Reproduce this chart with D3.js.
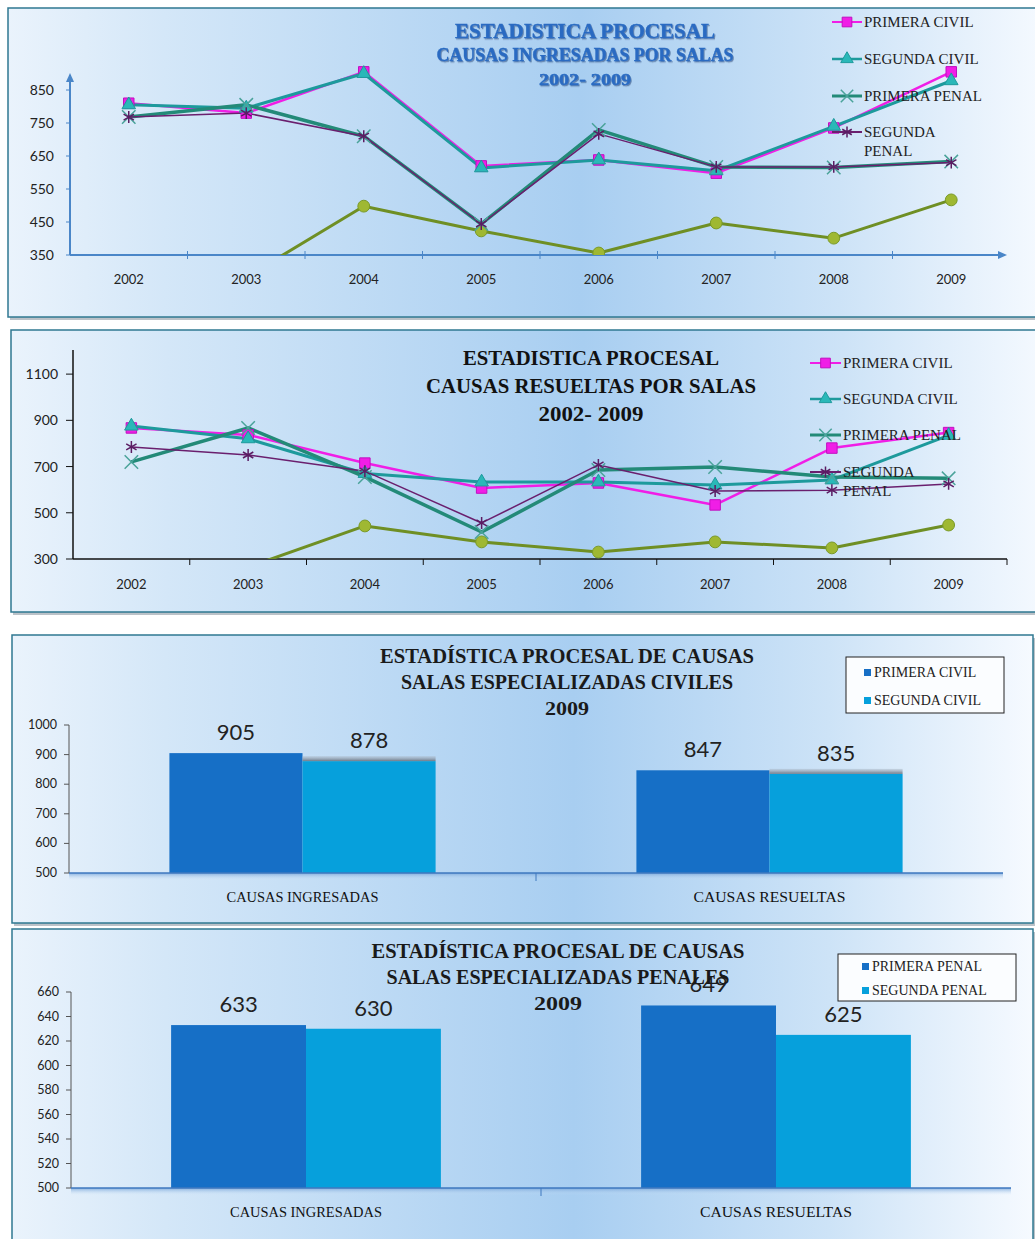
<!DOCTYPE html>
<html><head><meta charset="utf-8">
<script src="https://cdnjs.cloudflare.com/ajax/libs/d3/7.8.5/d3.min.js"></script>
<style>
html,body{margin:0;padding:0;background:#fff;}
svg{display:block;font-family:"Liberation Serif","DejaVu Serif",serif;}
.num{font-family:Lato,"Open Sans",sans-serif;}
</style></head>
<body>
<div id="chart"></div>
<script>
// ---------- DATA ----------
const years = ["2002","2003","2004","2005","2006","2007","2008","2009"];
const seriesNames = ["PRIMERA CIVIL","SEGUNDA CIVIL","PRIMERA PENAL","SEGUNDA PENAL"];

// Causas ingresadas por salas
const ingPrimeraCivil = [810, 780, 905, 620, 638, 598, 735, 905];
const ingSegundaCivil = [805, 795, 900, 614, 638, 605, 740, 878];
const ingPrimeraPenal = [768, 805, 710, 444, 729, 617, 615, 633];
const ingSegundaPenal = [768, 780, 710, 444, 717, 617, 617, 630];
const ingOtra         = [250, 283, 498, 423, 356, 447, 401, 517];
const ingTicks = [350, 450, 550, 650, 750, 850];

// Causas resueltas por salas
const resPrimeraCivil = [867, 837, 715, 607, 629, 534, 780, 847];
const resSegundaCivil = [875, 820, 670, 633, 633, 620, 642, 835];
const resPrimeraPenal = [720, 867, 655, 417, 685, 698, 655, 649];
const resSegundaPenal = [785, 750, 680, 456, 707, 594, 598, 625];
const resOtra         = [200, 265, 443, 374, 330, 374, 348, 447];
const resTicks = [300, 500, 700, 900, 1100];

// Bar charts 2009
const barCategories = ["CAUSAS INGRESADAS","CAUSAS RESUELTAS"];
const civilNames = ["PRIMERA CIVIL","SEGUNDA CIVIL"];
const civilPrimera = [905, 847];
const civilSegunda = [878, 835];
const civilTicks = [500, 600, 700, 800, 900, 1000];
const penalNames = ["PRIMERA PENAL","SEGUNDA PENAL"];
const penalPrimera = [633, 649];
const penalSegunda = [630, 625];
const penalTicks = [500, 520, 540, 560, 580, 600, 620, 640, 660];

// ---------- DRAW ----------
const W = 1035, H = 1239;
const svg = d3.select("#chart").append("svg").attr("width", W).attr("height", H);
const defs = svg.append("defs");
const g1 = defs.append("linearGradient").attr("id","bg").attr("x1","0").attr("x2","1").attr("y1","0").attr("y2","0");
[[0,"#eaf3fc"],[0.15,"#d4e7f8"],[0.55,"#a8cef1"],[0.8,"#cde3f7"],[1,"#f6faff"]].forEach(s=>g1.append("stop").attr("offset",s[0]).attr("stop-color",s[1]));
const gsh = defs.append("linearGradient").attr("id","barsh").attr("x1","0").attr("x2","0").attr("y1","0").attr("y2","1");
gsh.append("stop").attr("offset",0).attr("stop-color","#a9b6c4").attr("stop-opacity",0.4);
gsh.append("stop").attr("offset",1).attr("stop-color","#6f7a88").attr("stop-opacity",1);
const flt = defs.append("filter").attr("id","glow").attr("x","-10%").attr("y","-30%").attr("width","120%").attr("height","160%");
flt.append("feDropShadow").attr("dx",1).attr("dy",1.2).attr("stdDeviation",0.6).attr("flood-color","#1b3f73").attr("flood-opacity",0.55);
const floor = defs.append("linearGradient").attr("id","floor").attr("x1","0").attr("x2","0").attr("y1","0").attr("y2","1");
floor.append("stop").attr("offset",0).attr("stop-color","#6f9fd6");
floor.append("stop").attr("offset",1).attr("stop-color","#cfe3f7").attr("stop-opacity",0);

function panel(x,y,w,h){
  svg.append("rect").attr("x",x+2).attr("y",y+3).attr("width",w).attr("height",h).attr("fill","#8d9aa3").attr("opacity",0.6);
  svg.append("rect").attr("x",x).attr("y",y).attr("width",w).attr("height",h).attr("fill","url(#bg)").attr("stroke","#2f7891").attr("stroke-width",1.5);
}
panel(8,8,1040,309);
panel(11,330,1040,282);
panel(12,635,1021,288);
panel(12,929,1021,320);

const styles = [
  {name:"PRIMERA CIVIL", color:"#f01ee6", width:2.5, sym:d3.symbolSquare, size:110, fill:"#f01ee6", stroke:"#c010c0"},
  {name:"SEGUNDA CIVIL", color:"#1d9a9c", width:3, sym:d3.symbolTriangle, size:80, fill:"#2ab8b8", stroke:"#1d9a9c"},
  {name:"PRIMERA PENAL", color:"#238a78", width:3.5, sym:(d3.symbolTimes||d3.symbolX||d3.symbolCross), size:120, fill:"none", stroke:"#4aa39a"},
  {name:"SEGUNDA PENAL", color:"#6a1f6e", width:1.5, sym:(d3.symbolAsterisk||d3.symbolStar), size:100, fill:"none", stroke:"#5b1c63"},
  {name:"", color:"#6f8f24", width:3, sym:d3.symbolCircle, size:110, fill:"#9fb832", stroke:"#7a9a28"}
];

function linePanel(cfg){
  const x = d3.scaleBand().domain(years).range([cfg.x0, cfg.x1]);
  const y = d3.scaleLinear().domain(cfg.domain).range([cfg.yb, cfg.yt]);
  const gg = svg.append("g");
  const clipId = "clip"+cfg.id;
  defs.append("clipPath").attr("id",clipId).append("rect")
    .attr("x",cfg.x0).attr("y",cfg.yt-25).attr("width",cfg.x1-cfg.x0+10).attr("height",cfg.yb-cfg.yt+25);
  const ax = gg.append("g");
  ax.append("line").attr("x1",cfg.x0).attr("x2",cfg.x0).attr("y1",cfg.yb).attr("y2",cfg.axTop)
    .attr("stroke",cfg.axisColor).attr("stroke-width",cfg.axisW);
  ax.append("line").attr("x1",cfg.x0).attr("x2",cfg.axRight).attr("y1",cfg.yb).attr("y2",cfg.yb)
    .attr("stroke",cfg.axisColor).attr("stroke-width",cfg.axisW);
  if(cfg.arrows){
    ax.append("path").attr("d",`M${cfg.x0-4},${cfg.axTop+7}L${cfg.x0},${cfg.axTop-2}L${cfg.x0+4},${cfg.axTop+7}Z`).attr("fill",cfg.axisColor);
    ax.append("path").attr("d",`M${cfg.axRight-7},${cfg.yb-4}L${cfg.axRight+2},${cfg.yb}L${cfg.axRight-7},${cfg.yb+4}Z`).attr("fill",cfg.axisColor);
  }
  cfg.ticks.forEach(t=>{
    ax.append("line").attr("x1",cfg.x0-cfg.tickLen).attr("x2",cfg.x0).attr("y1",y(t)).attr("y2",y(t)).attr("stroke",cfg.axisColor).attr("stroke-width",1);
    ax.append("text").attr("class","num").attr("x",cfg.x0-cfg.labelGap).attr("y",y(t)+5).attr("text-anchor","end")
      .attr("font-size",14).attr("fill","#222").text(t);
  });
  years.forEach((yr,i)=>{
    if(i>0) ax.append("line").attr("x1",x(yr)).attr("x2",x(yr)).attr("y1",cfg.yb-cfg.xTickUp).attr("y2",cfg.yb+cfg.xTickDown).attr("stroke",cfg.axisColor).attr("stroke-width",1);
    ax.append("text").attr("class","num").attr("x",x(yr)+x.bandwidth()/2).attr("y",cfg.yearY).attr("text-anchor","middle")
      .attr("font-size",13).attr("fill","#222").text(yr);
  });
  if(cfg.endTick) ax.append("line").attr("x1",cfg.axRight).attr("x2",cfg.axRight).attr("y1",cfg.yb).attr("y2",cfg.yb+cfg.xTickDown).attr("stroke",cfg.axisColor);
  const order = [4,0,1,2,3];
  const lg = gg.append("g").attr("clip-path",`url(#${clipId})`);
  order.forEach(si=>{
    const st = styles[si], data = cfg.series[si];
    const line = d3.line().x((d,i)=>x(years[i])+x.bandwidth()/2).y(d=>y(d));
    lg.append("path").datum(data).attr("d",line).attr("fill","none").attr("stroke",st.color).attr("stroke-width",st.width).attr("stroke-linejoin","round");
  });
  order.forEach(si=>{
    const st = styles[si], data = cfg.series[si];
    lg.selectAll(null).data(data).enter().append("path")
      .attr("transform",(d,i)=>`translate(${x(years[i])+x.bandwidth()/2},${y(d)})`)
      .attr("d",d3.symbol().type(st.sym).size(st.size))
      .attr("fill",st.fill).attr("stroke",st.stroke).attr("stroke-width",st.fill==="none"?1.5:1);
  });
  const leg = gg.append("g");
  cfg.legendRows.forEach((ly,i)=>{
    const st = styles[i];
    const mx = (cfg.legX0+cfg.legX1)/2;
    leg.append("line").attr("x1",cfg.legX0).attr("x2",cfg.legX1).attr("y1",ly).attr("y2",ly).attr("stroke",st.color).attr("stroke-width",Math.max(2,st.width-0.5));
    leg.append("path").attr("transform",`translate(${mx},${ly})`).attr("d",d3.symbol().type(st.sym).size(st.size*0.85))
      .attr("fill",st.fill).attr("stroke",st.stroke).attr("stroke-width",st.fill==="none"?1.5:1);
    const words = seriesNames[i]==="SEGUNDA PENAL" ? ["SEGUNDA","PENAL"] : [seriesNames[i]];
    words.forEach((w,j)=>{
      leg.append("text").attr("x",cfg.legX1+2).attr("y",ly+5+j*19).attr("font-size",15).attr("fill","#222").text(w);
    });
  });
  cfg.title.forEach(t=>{
    const tx = gg.append("text").attr("x",cfg.titleX).attr("y",t.y).attr("text-anchor","middle")
      .attr("font-weight","bold").attr("font-size",t.size).attr("fill",cfg.titleColor)
      .attr("textLength",t.len).attr("lengthAdjust","spacingAndGlyphs").text(t.text);
    if(cfg.glow) tx.attr("filter","url(#glow)").attr("stroke",cfg.titleColor).attr("stroke-width",0.4);
  });
}

linePanel({id:1, x0:70, x1:1010, axRight:1005, domain:[350,900], yb:255, yt:73.5, axTop:75,
  axisColor:"#4a86c8", axisW:2, arrows:true, ticks:ingTicks, tickLen:4, labelGap:16, xTickUp:4, xTickDown:4, yearY:284, endTick:false,
  series:[ingPrimeraCivil, ingSegundaCivil, ingPrimeraPenal, ingSegundaPenal, ingOtra],
  legX0:832, legX1:862, legendRows:[22,59,96,132],
  titleX:585, titleColor:"#2a6bc2", glow:true,
  title:[{text:"ESTADISTICA PROCESAL",y:38,size:22,len:260},{text:"CAUSAS INGRESADAS POR SALAS",y:61,size:19,len:297},{text:"2002- 2009",y:85,size:16,len:92}]
});

linePanel({id:2, x0:73, x1:1007, axRight:1007, domain:[300,1200], yb:559, yt:351, axTop:350,
  axisColor:"#111", axisW:1.5, arrows:false, ticks:resTicks, tickLen:7, labelGap:15, xTickUp:0, xTickDown:6, yearY:589, endTick:true,
  series:[resPrimeraCivil, resSegundaCivil, resPrimeraPenal, resSegundaPenal, resOtra],
  legX0:810, legX1:841, legendRows:[363,399,435,472],
  titleX:591, titleColor:"#111", glow:false,
  title:[{text:"ESTADISTICA PROCESAL",y:365,size:21,len:256},{text:"CAUSAS RESUELTAS POR SALAS",y:393,size:21,len:330},{text:"2002- 2009",y:421,size:20,len:105}]
});

const barColors = ["#166fc6","#06a0dc"];

function barPanel(cfg){
  const x0 = d3.scaleBand().domain(barCategories).range([cfg.x0, cfg.x1]);
  const x1 = d3.scaleBand().domain([0,1]).range([x0.bandwidth()*cfg.padL, x0.bandwidth()*(1-cfg.padL)]);
  const y = d3.scaleLinear().domain(cfg.domain).range([cfg.yb, cfg.yt]);
  const gg = svg.append("g");
  gg.append("rect").attr("x",cfg.x0).attr("y",cfg.yb).attr("width",cfg.x1-cfg.x0).attr("height",7).attr("fill","url(#floor)").attr("opacity",0.8);
  const vals = [cfg.s1, cfg.s2];
  barCategories.forEach((c,ci)=>{
    [0,1].forEach(si=>{
      const v = vals[si][ci];
      const bx = x0(c)+x1(si);
      gg.append("rect").attr("x",bx).attr("y",y(v)).attr("width",x1.bandwidth()).attr("height",cfg.yb-y(v)).attr("fill",barColors[si]);
      if(si===1 && cfg.shadow){
        gg.append("rect").attr("x",bx).attr("y",y(v)-5).attr("width",x1.bandwidth()).attr("height",5).attr("fill","url(#barsh)");
      }
      gg.append("text").attr("class","num").attr("x",bx+x1.bandwidth()/2).attr("y",y(v)-13).attr("text-anchor","middle")
        .attr("font-size",22).attr("fill","#222").text(v);
    });
    gg.append("text").attr("x",x0(c)+x0.bandwidth()/2).attr("y",cfg.catY).attr("text-anchor","middle")
      .attr("font-size",14).attr("fill","#111").attr("textLength",152).attr("lengthAdjust","spacingAndGlyphs").text(c);
  });
  gg.append("line").attr("x1",cfg.x0).attr("x2",cfg.x0).attr("y1",cfg.yb).attr("y2",cfg.yt).attr("stroke","#555").attr("stroke-width",1);
  cfg.ticks.forEach(t=>{
    gg.append("line").attr("x1",cfg.x0-5).attr("x2",cfg.x0).attr("y1",y(t)).attr("y2",y(t)).attr("stroke","#555");
    gg.append("text").attr("class","num").attr("x",cfg.x0-12).attr("y",y(t)+4).attr("text-anchor","end").attr("font-size",12.5).attr("fill","#222").text(t);
  });
  gg.append("line").attr("x1",cfg.x0).attr("x2",cfg.x1).attr("y1",cfg.yb).attr("y2",cfg.yb).attr("stroke","#3f78bf").attr("stroke-width",1.5);
  gg.append("line").attr("x1",x0(barCategories[1])).attr("x2",x0(barCategories[1])).attr("y1",cfg.yb).attr("y2",cfg.yb+8).attr("stroke","#3f78bf");
  cfg.title.forEach(t=>{
    gg.append("text").attr("x",cfg.titleX).attr("y",t.y).attr("text-anchor","middle").attr("font-weight","bold")
      .attr("font-size",t.size).attr("fill","#1a1a1a").attr("textLength",t.len).attr("lengthAdjust","spacingAndGlyphs").text(t.text);
  });
  const L = cfg.legend;
  gg.append("rect").attr("x",L.x).attr("y",L.y).attr("width",L.w).attr("height",L.h).attr("fill","#fbfdff").attr("stroke","#222").attr("stroke-width",1);
  cfg.names.forEach((n,i)=>{
    const ry = L.rows[i];
    gg.append("rect").attr("x",L.mx).attr("y",ry-8).attr("width",7).attr("height",7).attr("fill",barColors[i]);
    gg.append("text").attr("x",L.mx+10).attr("y",ry).attr("font-size",14).attr("fill","#222").text(n);
  });
}

barPanel({x0:69, x1:1003, yb:873, yt:725, domain:[500,1000], ticks:civilTicks, padL:0.215,
  s1:civilPrimera, s2:civilSegunda, names:civilNames, shadow:true, catY:902,
  titleX:567,
  title:[{text:"ESTADÍSTICA PROCESAL DE CAUSAS",y:663,size:20,len:374},{text:"SALAS ESPECIALIZADAS CIVILES",y:689,size:20,len:332},{text:"2009",y:715,size:19,len:44}],
  legend:{x:846,y:657,w:158,h:56,mx:864,rows:[677,705]}
});

barPanel({x0:71, x1:1011, yb:1188, yt:992, domain:[500,660], ticks:penalTicks, padL:0.213,
  s1:penalPrimera, s2:penalSegunda, names:penalNames, shadow:false, catY:1217,
  titleX:558,
  title:[{text:"ESTADÍSTICA PROCESAL DE CAUSAS",y:958,size:20,len:373},{text:"SALAS ESPECIALIZADAS PENALES",y:984,size:20,len:343},{text:"2009",y:1010,size:19,len:48}],
  legend:{x:838,y:954,w:178,h:47,mx:862,rows:[971,995]}
});
</script>
</body></html>
